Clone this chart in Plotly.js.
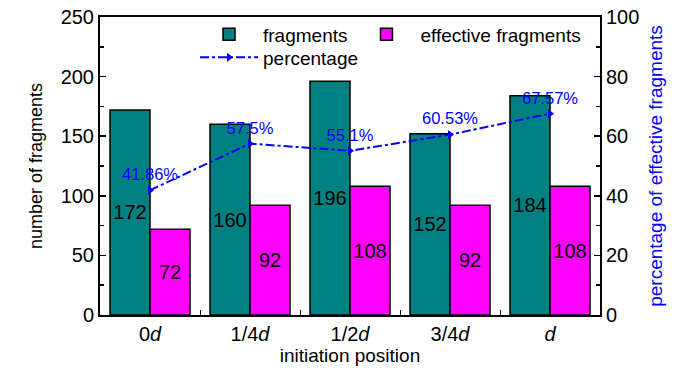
<!DOCTYPE html>
<html>
<head>
<meta charset="utf-8">
<script src="https://cdn.plot.ly/plotly-3.0.1.min.js"></script>
<style>html,body{margin:0;padding:0;background:#fff}#chart{width:700px;height:374px}</style>
</head>
<body>
<div id="chart"></div>
<script>
const categories = ["0<i>d</i>", "1/4<i>d</i>", "1/2<i>d</i>", "3/4<i>d</i>", "<i>d</i>"];
const fragments = [172, 160, 196, 152, 184];
const effectiveFragments = [72, 92, 108, 92, 108];
const percentage = [41.86, 57.5, 55.1, 60.53, 67.57];
const percentageLabels = ["41.86%", "57.5%", "55.1%", "60.53%", "67.57%"];

const FONT = "Liberation Sans, Arial, sans-serif";

const traces = [
  {
    type: "bar", name: "fragments", x: categories, y: fragments,
    text: fragments.map(String), textposition: "inside", insidetextanchor: "middle", textangle: 0,
    textfont: {family: FONT, size: 20, color: "#000"},
    marker: {color: "#008080", line: {color: "#000", width: 1.5}},
    legend: "legend"
  },
  {
    type: "bar", name: "effective fragments", x: categories, y: effectiveFragments,
    text: effectiveFragments.map(String), textposition: "inside", insidetextanchor: "middle", textangle: 0,
    textfont: {family: FONT, size: 20, color: "#000"},
    marker: {color: "#FF00FF", line: {color: "#000", width: 1.5}},
    legend: "legend"
  },
  {
    type: "scatter", mode: "lines+markers+text", name: "percentage",
    x: categories, y: percentage, yaxis: "y2",
    text: percentageLabels, textposition: "top center",
    textfont: {family: FONT, size: 16.5, color: "#0000FF"},
    line: {color: "#0000FF", width: 2, dash: "dashdot"},
    marker: {symbol: "triangle-right", size: 8, color: "#0000FF"},
    legend: "legend2", cliponaxis: false
  }
];

const layout = {
  width: 700, height: 374,
  margin: {l: 100, r: 100, t: 17, b: 59},
  paper_bgcolor: "#fff", plot_bgcolor: "#fff",
  font: {family: FONT, size: 19, color: "#000"},
  barmode: "group", bargap: 0.2, bargroupgap: 0,
  showlegend: true,
  xaxis: {
    type: "category", range: [-0.5, 4.5],
    showline: true, linecolor: "#000", linewidth: 2, mirror: true,
    ticks: "inside", tickson: "boundaries", ticklen: 5, tickcolor: "#000",
    tickfont: {family: FONT, size: 20, color: "#000"},
    showgrid: false, zeroline: false,
    title: {text: "initiation position", font: {family: FONT, size: 19, color: "#000"}, standoff: 2}
  },
  yaxis: {
    range: [0, 250], dtick: 50, tick0: 0,
    showline: true, linecolor: "#000", linewidth: 2,
    ticks: "inside", ticklen: 6, tickcolor: "#000", tickwidth: 1.5,
    minor: {dtick: 25, ticks: "inside", ticklen: 4, tickcolor: "#000"},
    tickfont: {family: FONT, size: 20, color: "#000"},
    showgrid: false, zeroline: false,
    title: {text: "number of fragments", font: {family: FONT, size: 18, color: "#000"}, standoff: 13}
  },
  yaxis2: {
    range: [0, 100], dtick: 20, tick0: 0, overlaying: "y", side: "right",
    showline: true, linecolor: "#000", linewidth: 2,
    ticks: "inside", ticklen: 6, tickcolor: "#000", tickwidth: 1.5,
    minor: {dtick: 10, ticks: "inside", ticklen: 4, tickcolor: "#000"},
    tickfont: {family: FONT, size: 20, color: "#000"},
    showgrid: false, zeroline: false,
    title: {text: "percentage of effective fragments", font: {family: FONT, size: 19, color: "#0000FF"}, standoff: 10}
  },
  legend: {
    orientation: "h", x: 0.19, y: 1.005, xanchor: "left", yanchor: "top",
    bgcolor: "rgba(0,0,0,0)", font: {family: FONT, size: 19, color: "#000"},
    itemwidth: 58, tracegroupgap: 0
  },
  legend2: {
    orientation: "h", x: 0.19, y: 0.928, xanchor: "left", yanchor: "top",
    bgcolor: "rgba(0,0,0,0)", font: {family: FONT, size: 19, color: "#000"},
    itemwidth: 58
  }
};

Plotly.newPlot("chart", traces, layout, {displayModeBar: false, staticPlot: true});
</script>
</body>
</html>
